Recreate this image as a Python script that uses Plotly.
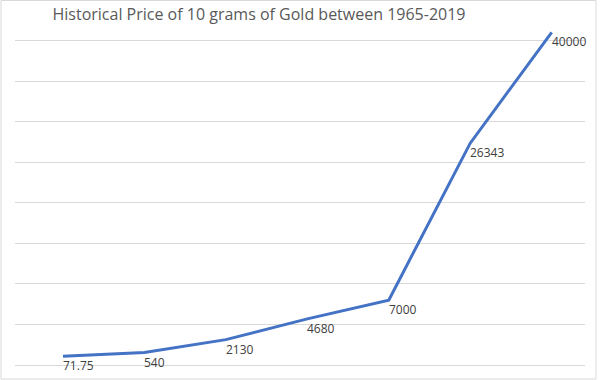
import plotly.graph_objects as go

title_text = "Historical Price of 10 grams of Gold between 1965-2019"
categories = ["1965", "1975", "1985", "1995", "2005", "2015", "2019"]
prices = [71.75, 540, 2130, 4680, 7000, 26343, 40000]
price_labels = ["71.75", "540", "2130", "4680", "7000", "26343", "40000"]

xs = list(range(len(categories)))

fig = go.Figure()
fig.add_trace(go.Scatter(
    x=xs,
    y=prices,
    mode="lines",
    line=dict(color="#4472C4", width=3),
    cliponaxis=False,
    hoverinfo="skip",
))

annotations = [
    dict(x=xi, y=yi, xref="x", yref="y", text=lab, showarrow=False,
         xanchor="left", yanchor="top", xshift=-2, yshift=1,
         font=dict(family="Open Sans", size=12, color="#404040"))
    for xi, yi, lab in zip(xs, prices, price_labels)
]

fig.update_layout(
    width=600, height=380,
    margin=dict(l=15, r=15, t=28, b=15),
    paper_bgcolor="white",
    plot_bgcolor="white",
    showlegend=False,
    title=dict(
        text=title_text,
        font=dict(family="Open Sans", size=16, color="#595959"),
        xref="container", x=259/600, xanchor="center",
        yref="container", y=1 - 14/380, yanchor="middle",
    ),
    xaxis=dict(
        range=[-0.589, 6.409],
        showgrid=False, showticklabels=False, ticks="",
        zeroline=False,
        showline=True, linecolor="#d9d9d9", linewidth=1,
    ),
    yaxis=dict(
        range=[-1000, 40541],
        tick0=-1000, dtick=5000,
        showgrid=True, gridcolor="#d9d9d9", gridwidth=1,
        showticklabels=False, ticks="",
        zeroline=False, showline=False,
    ),
    annotations=annotations,
    shapes=[dict(
        type="rect", xref="paper", yref="paper",
        x0=(1 - 15) / 570, x1=(596 - 15) / 570,
        y0=(365 - 379) / 337, y1=(365 - 0.5) / 337,
        line=dict(color="#d9d9d9", width=1),
        layer="below",
    )],
)

fig.write_html("out.html", config={"displayModeBar": False},
               post_script="document.body.style.margin='0';")
